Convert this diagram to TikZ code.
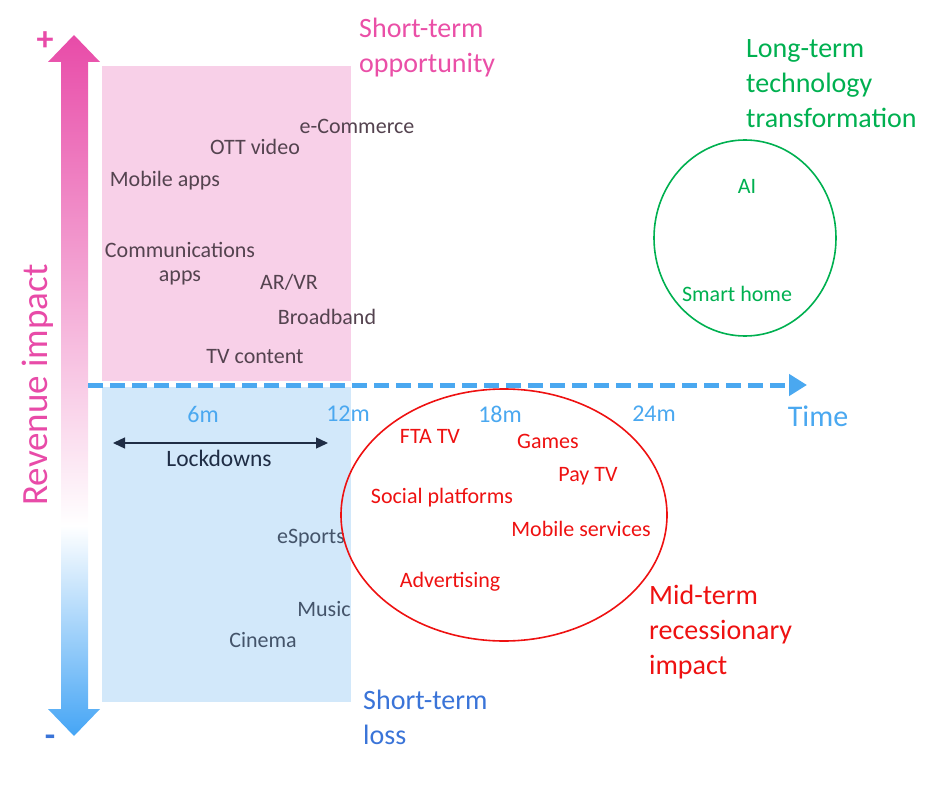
\documentclass[tikz,border=0pt]{standalone}
\usepackage{fontspec}
\setmainfont{Carlito}
\usetikzlibrary{arrows.meta}
\definecolor{rpink}{HTML}{E84BA8}
\definecolor{rblue}{HTML}{45A5F5}
\definecolor{pinkbox}{HTML}{F8D0E8}
\definecolor{bluebox}{HTML}{D2E8FA}
\definecolor{axisblue}{HTML}{4AA8F0}
\definecolor{optext}{HTML}{54434F}
\definecolor{losstext}{HTML}{44546A}
\definecolor{navy}{HTML}{1F2D45}
\definecolor{gr}{HTML}{00B050}
\definecolor{rd}{HTML}{EE1111}
\definecolor{lossblue}{HTML}{3A74D8}
\definecolor{oppink}{HTML}{EA4FA7}
\pgfdeclareverticalshading{revshade}{100bp}{color(0bp)=(rblue); color(25bp)=(rblue); color(40bp)=(white); color(75bp)=(rpink); color(100bp)=(rpink)}
\tikzset{
  lbl/.style={font=\fontsize{22}{26}\selectfont, inner sep=0pt},
  big/.style={font=\fontsize{28}{35}\selectfont, inner sep=0pt, align=left, anchor=north west},
  tick/.style={lbl, text=axisblue, font=\fontsize{24}{26}\selectfont},
}
\begin{document}
\begin{tikzpicture}[x=1pt,y=-1pt]
\useasboundingbox (0,0) rectangle (951,789);
% boxes
\fill[pinkbox] (102,66) rectangle (351,381);
\fill[bluebox] (102,387) rectangle (351,702);
% vertical double arrow
\path[shading=revshade] (61,62) -- (48,62) -- (74,35) -- (100,62) -- (88,62) -- (88,709) -- (100,709) -- (74,736) -- (48,709) -- (61,709) -- cycle;
\node[lbl, text=rpink, font=\fontsize{34}{34}\selectfont\bfseries] (plus) at (45,41) {+};
\node[lbl, text=lossblue, font=\fontsize{34}{34}\selectfont\bfseries] (minus) at (50,741) {-};
\node[lbl, text=rpink, rotate=90, font=\fontsize{37}{40}\selectfont] (rev) at (38,385) {Revenue impact};
% time axis
\coordinate (ax0) at (88,385);
\coordinate (ax1) at (807,385);
\draw[axisblue, line width=5pt, dash pattern=on 15pt off 7pt, -{Triangle[length=18pt,width=21pt]}] (ax0) -- (ax1);
\node[lbl, text=axisblue, font=\fontsize{30}{30}\selectfont] (time) at (818,416) {Time};
\node[tick] (t6) at (203,414) {6m};
\node[tick] (t12) at (348,414) {12m};
\node[tick] (t18) at (500,414) {18m};
\node[tick] (t24) at (654,414) {24m};
% lockdowns
\coordinate (lk0) at (113,443);
\coordinate (lk1) at (328,443);
\draw[navy, line width=1.3pt, {Triangle[length=12pt,width=11pt]}-{Triangle[length=12pt,width=11pt]}] (lk0) -- (lk1);
\node[lbl, text=navy, font=\fontsize{23.5}{26}\selectfont] (lock) at (219,458) {Lockdowns};
% opportunity labels
\node[lbl, text=optext] (ecom) at (357,126) {e-Commerce};
\node[lbl, text=optext] (ott) at (255,147) {OTT video};
\node[lbl, text=optext] (mob) at (165,181) {Mobile apps};
\node[lbl, text=optext] (comm) at (180,250) {Communications};
\node[lbl, text=optext] (apps) at (180,278) {apps};
\node[lbl, text=optext] (arvr) at (289,282) {AR/VR};
\node[lbl, text=optext] (bb) at (327,317) {Broadband};
\node[lbl, text=optext] (tvc) at (255,357) {TV content};
% loss labels
\node[lbl, text=losstext] (esp) at (311,538) {eSports};
\node[lbl, text=losstext] (mus) at (324,609) {Music};
\node[lbl, text=losstext] (cin) at (263,640) {Cinema};
% long term
\draw[gr, line width=1.6pt] (745,238) ellipse [x radius=91, y radius=98];
\node[lbl, text=gr] (ai) at (747,186) {AI};
\node[lbl, text=gr] (sh) at (737,294) {Smart home};
% mid term
\draw[rd, line width=1.6pt] (504,515) ellipse [x radius=163, y radius=126];
\node[lbl, text=rd] (fta) at (430,436) {FTA TV};
\node[lbl, text=rd] (games) at (548,441) {Games};
\node[lbl, text=rd] (pay) at (588,476) {Pay TV};
\node[lbl, text=rd] (soc) at (442,498) {Social platforms};
\node[lbl, text=rd] (ms) at (581,529) {Mobile services};
\node[lbl, text=rd] (adv) at (450,582) {Advertising};
% titles
\node[big, text=oppink] (sto) at (359,18) {Short-term\\opportunity};
\node[big, text=gr] (ltt) at (746,39) {Long-term\\technology\\transformation};
\node[big, text=rd] (mtr) at (649,585) {Mid-term\\recessionary\\impact};
\node[big, text=lossblue] (stl) at (363,690) {Short-term\\loss};
\end{tikzpicture}
\end{document}
